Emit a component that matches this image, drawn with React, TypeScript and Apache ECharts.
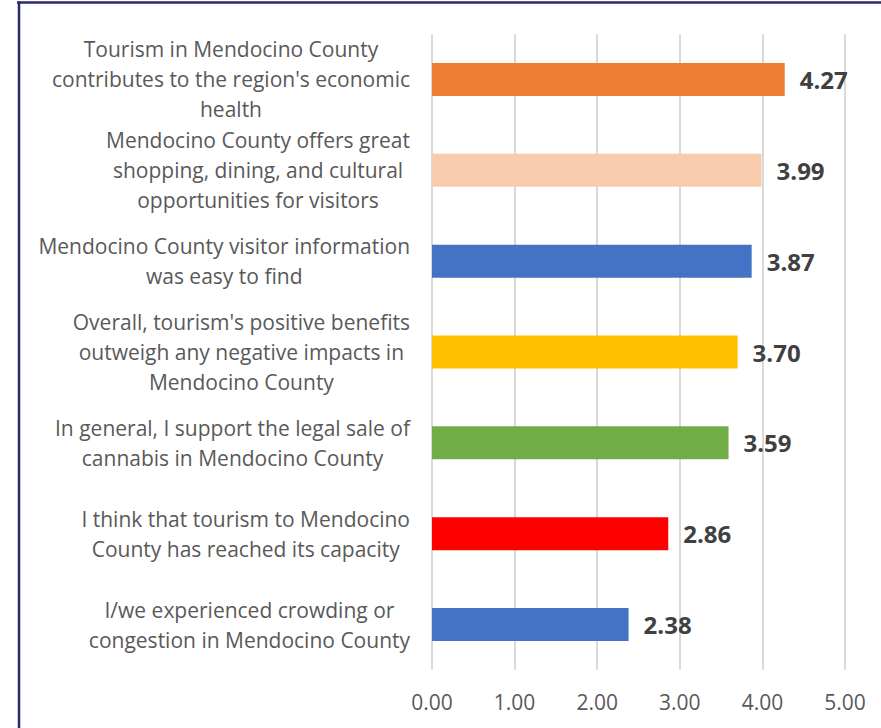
import React, { useEffect, useRef } from "react";
import * as echarts from "echarts";

const categories: string[] = [
  "Tourism in Mendocino County\ncontributes to the region's economic\nhealth",
  "Mendocino County offers great\nshopping, dining, and cultural\nopportunities for visitors",
  "Mendocino County visitor information\nwas easy to find",
  "Overall, tourism's positive benefits\noutweigh any negative impacts in\nMendocino County",
  "In general, I support the legal sale of\ncannabis in Mendocino County",
  "I think that tourism to Mendocino\nCounty has reached its capacity",
  "I/we experienced crowding or\ncongestion in Mendocino County",
];
const values: number[] = [4.27, 3.99, 3.87, 3.7, 3.59, 2.86, 2.38];
const barColors: string[] = ["#ED7D31", "#F8CBAD", "#4472C4", "#FFC000", "#70AD47", "#FF0000", "#4472C4"];
const xMin = 0;
const xMax = 5;
const xInterval = 1;

const FONT = "'Open Sans', 'Noto Sans', sans-serif";

export default function App() {
  const ref = useRef<HTMLDivElement>(null);
  useEffect(() => {
    if (!ref.current) return;
    const chart = echarts.init(ref.current, undefined, { renderer: "svg" });
    chart.setOption({
      animation: false,
      backgroundColor: "#ffffff",
      grid: { left: 432, right: 36, top: 34, bottom: 58, containLabel: false },
      xAxis: {
        type: "value",
        min: xMin,
        max: xMax,
        interval: xInterval,
        axisLine: { show: false },
        axisTick: { show: false },
        splitLine: { show: true, lineStyle: { color: "#d9d9d9", width: 2 } },
        axisLabel: {
          formatter: (v: number) => v.toFixed(2),
          color: "#595959",
          fontSize: 21,
          fontFamily: FONT,
          margin: 21,
        },
      },
      yAxis: {
        type: "category",
        inverse: true,
        data: categories,
        axisLine: { show: false },
        axisTick: { show: false },
        axisLabel: {
          margin: 22,
          formatter: (v: string) => v.split("\n").map((l) => `{a|${l}}`).join("\n"),
          rich: {
            a: {
              align: "center",
              fontSize: 21,
              lineHeight: 30,
              color: "#595959",
              fontFamily: FONT,
            },
          },
        },
      },
      series: [
        {
          type: "bar",
          barWidth: 33,
          data: values.map((v, i) => ({ value: v, itemStyle: { color: barColors[i] } })),
          label: {
            show: true,
            position: "right",
            distance: 15,
            formatter: (p: any) => Number(p.value).toFixed(2),
            color: "#404040",
            fontWeight: "bold",
            fontSize: 24,
            fontFamily: FONT,
          },
        },
      ],
      graphic: [
        {
          type: "line",
          shape: { x1: 17, y1: 2.5, x2: 881, y2: 2.5 },
          style: { stroke: "#2b2a6b", lineWidth: 2.5 },
        },
        {
          type: "line",
          shape: { x1: 19, y1: 1.5, x2: 19, y2: 728 },
          style: { stroke: "#2b2a6b", lineWidth: 2.5 },
        },
      ],
    });
    return () => chart.dispose();
  }, []);
  return (
    <div
      ref={ref}
      style={{ position: "absolute", left: 0, top: 0, width: 881, height: 728 }}
    />
  );
}
